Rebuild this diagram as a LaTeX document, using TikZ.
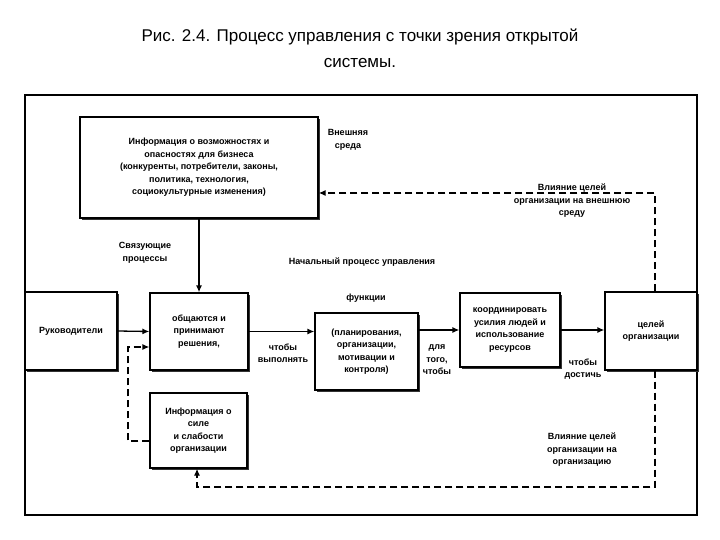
\documentclass[tikz,border=0pt]{standalone}
\usepackage{fontspec}
\setmainfont{Liberation Sans}
\usetikzlibrary{arrows.meta,shadows}
\tikzset{
  box/.style={draw, line width=1.3pt, fill=white, align=center, font=\bfseries\fontsize{9}{12.5}\selectfont, inner sep=1pt,
    drop shadow={shadow xshift=2pt, shadow yshift=-2pt, fill=black!80, opacity=1}},
  lbl/.style={align=center, font=\bfseries\fontsize{9}{12.5}\selectfont, inner sep=1pt},
  flow/.style={line width=1.3pt, -{Latex[length=7pt,width=6pt]}},
  back/.style={line width=1.3pt, dash pattern=on 7pt off 4pt, -{Latex[length=7pt,width=6pt]}}
}
\begin{document}
\begin{tikzpicture}[x=1pt,y=-1pt]
        \useasboundingbox (0,0) rectangle (720,540);
        \node[font=\fontsize{17}{26}\selectfont, align=center] (title) at (360,48) {Рис. 2.4. Процесс управления с точки зрения открытой\\системы.};
        \draw[line width=1.3pt] (25,95) rectangle (697,515);

        \node[box, minimum width=238pt, minimum height=101pt] (info) at (199,167.5) {Информация о возможностях и\\опасностях для бизнеса\\(конкуренты, потребители, законы,\\политика, технология,\\социокультурные изменения)};
        \node[box, minimum width=92pt, minimum height=78pt] (ruk) at (71,331) {Руководители};
        \node[box, minimum width=98pt, minimum height=77pt] (obsh) at (199,331.5) {общаются и\\принимают\\решения,};
        \node[box, minimum width=97pt, minimum height=75pt] (sila) at (198.5,430.5) {Информация о\\силе\\и слабости\\организации};
        \node[box, minimum width=103pt, minimum height=77pt] (func) at (366.5,351.5) {(планирования,\\организации,\\мотивации и\\контроля)};
        \node[box, minimum width=100pt, minimum height=74pt] (koord) at (510,330) {координировать\\усилия людей и\\использование\\ресурсов};
        \node[box, minimum width=92pt, minimum height=78pt] (goal) at (651,331) {целей\\организации};

        \coordinate (c1) at (655,193);
        \coordinate (c2) at (655,487);
        \coordinate (c3) at (197,487);
        \coordinate (c4) at (128,441);
        \coordinate (c5) at (128,347);

        \draw[flow] (info.south -| obsh.north) -- (obsh.north);
        \draw[flow] (ruk.east) -- (obsh.west);
        \draw[flow] (obsh.east) -- (obsh.east -| func.west);
        \draw[flow] (func.east |- koord.west) -- (koord.west);
        \draw[flow] (koord.east) -- (koord.east -| goal.west);
        \draw[back] (goal.north -| c1) -- (c1) -- (c1 -| info.east);
        \draw[back] (goal.south -| c2) -- (c2) -- (c3) -- (sila.south -| c3);
        \draw[back] (sila.west |- c4) -- (c4) -- (c5) -- (c5 -| obsh.west);

        \node[lbl] (ext) at (348,140) {Внешняя\\среда};
        \node[lbl] (inflext) at (572,201) {Влияние целей\\организации на внешнюю\\среду};
        \node[lbl] (svyaz) at (145,253) {Связующие\\процессы};
        \node[lbl] (nach) at (362,262) {Начальный процесс управления};
        \node[lbl] (funcl) at (366,298) {функции};
        \node[lbl] (vyp) at (283,353) {чтобы\\выполнять};
        \node[lbl] (dlya) at (437,360) {для\\того,\\чтобы};
        \node[lbl] (dost) at (583,369) {чтобы\\достичь};
        \node[lbl] (inflorg) at (582,450) {Влияние целей\\организации на\\организацию};
\end{tikzpicture}
\end{document}
